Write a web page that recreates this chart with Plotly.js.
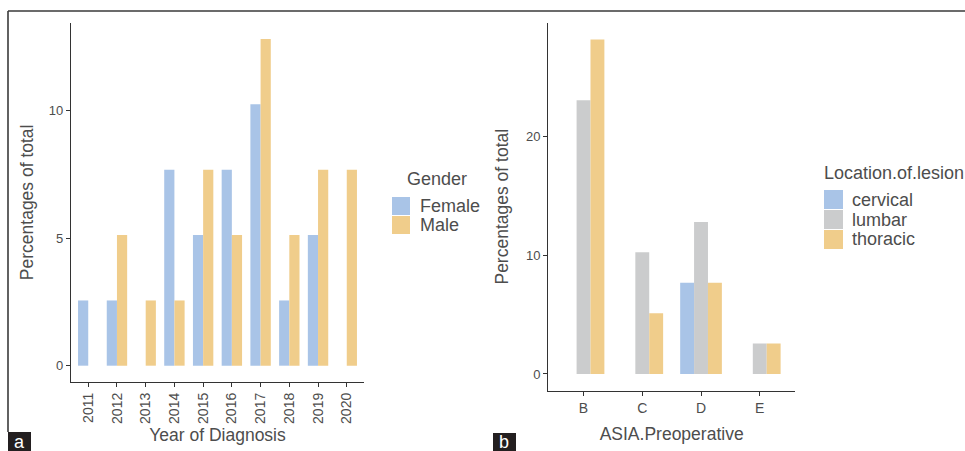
<!DOCTYPE html>
<html>
<head>
<meta charset="utf-8">
<script src="https://cdn.plot.ly/plotly-3.0.1.min.js"></script>
<style>
html,body{margin:0;padding:0;background:#fff;}
#chart{width:965px;height:451px;}
</style>
</head>
<body>
<div id="chart"></div>
<script>
// ---- Data (percentages of total) ----
const years = ['2011','2012','2013','2014','2015','2016','2017','2018','2019','2020'];
const femalePct = [2.56, 2.56, null, 7.69, 5.13, 7.69, 10.26, 2.56, 5.13, null];
const malePct   = [null, 5.13, 2.56, 2.56, 7.69, 5.13, 12.82, 5.13, 7.69, 7.69];

const asiaGrades   = ['B','C','D','E'];
const cervicalPct  = [null, null, 7.69, null];
const lumbarPct    = [23.08, 10.26, 12.82, 2.56];
const thoracicPct  = [28.21, 5.13, 7.69, 2.56];

const ticksA = [0, 5, 10];
const ticksB = [0, 10, 20];

const genderNames   = ['Female', 'Male'];
const locationNames = ['cervical', 'lumbar', 'thoracic'];

// ---- Styles ----
const BLUE = '#a9c4e7', GOLD = '#f0cd8b', GREY = '#cbcccd';
const TXT = '#4d4d4d', AXC = '#333333';
const FONT = 'Liberation Sans, Arial, sans-serif';
const W = 965, H = 451;
const px = v => v / W, py = v => 1 - v / H;

const genderColors = [BLUE, GOLD];
const locationColors = [BLUE, GREY, GOLD];

const traces = [
  {type:'bar', name:genderNames[0], x:years, y:femalePct, marker:{color:genderColors[0]}, xaxis:'x', yaxis:'y'},
  {type:'bar', name:genderNames[1], x:years, y:malePct, marker:{color:genderColors[1]}, xaxis:'x', yaxis:'y'},
  {type:'bar', name:locationNames[0], x:asiaGrades, y:cervicalPct, marker:{color:locationColors[0]}, xaxis:'x2', yaxis:'y2'},
  {type:'bar', name:locationNames[1], x:asiaGrades, y:lumbarPct, marker:{color:locationColors[1]}, xaxis:'x2', yaxis:'y2'},
  {type:'bar', name:locationNames[2], x:asiaGrades, y:thoracicPct, marker:{color:locationColors[2]}, xaxis:'x2', yaxis:'y2'}
];

const axBase = {
  showline:true, linecolor:AXC, linewidth:1.2, mirror:false,
  showgrid:false, zeroline:false,
  ticks:'outside', ticklen:4, tickwidth:1, tickcolor:AXC,
  tickfont:{family:FONT, size:13, color:TXT}
};
const titleFont = {family:FONT, size:17.5, color:TXT};

const shapes = [
  {type:'line', xref:'paper', yref:'paper', x0:px(8), x1:1, y0:py(11), y1:py(11), line:{color:'#3a3a3a', width:1.6}},
  {type:'line', xref:'paper', yref:'paper', x0:px(8), x1:px(8), y0:py(11), y1:py(432), line:{color:'#3a3a3a', width:1.6}},
  {type:'rect', xref:'paper', yref:'paper', x0:px(8), x1:px(31), y0:py(451), y1:py(432), fillcolor:'#231f20', line:{width:0}},
  {type:'rect', xref:'paper', yref:'paper', x0:px(493), x1:px(516), y0:py(451), y1:py(433), fillcolor:'#231f20', line:{width:0}}
];
const annotations = [
  {xref:'paper', yref:'paper', x:px(19.5), y:py(442), text:'a', showarrow:false, xanchor:'center', yanchor:'middle', font:{family:FONT, size:18, color:'#fff'}},
  {xref:'paper', yref:'paper', x:px(504.5), y:py(442), text:'b', showarrow:false, xanchor:'center', yanchor:'middle', font:{family:FONT, size:18, color:'#fff'}}
];

// ggplot-style legends (large touching keys)
function addLegend(title, titleX, titleY, names, colors, keyX, keyTop, keySize, keyStep, labelX) {
  annotations.push({xref:'paper', yref:'paper', x:px(titleX), y:py(titleY), text:title, showarrow:false,
    xanchor:'left', yanchor:'middle', font:{family:FONT, size:18, color:TXT}});
  names.forEach((n, i) => {
    const t = keyTop + i * keyStep;
    shapes.push({type:'rect', xref:'paper', yref:'paper', x0:px(keyX), x1:px(keyX + keySize),
      y0:py(t + keySize), y1:py(t), fillcolor:colors[i], line:{width:0}});
    annotations.push({xref:'paper', yref:'paper', x:px(labelX), y:py(t + keySize / 2), text:n, showarrow:false,
      xanchor:'left', yanchor:'middle', font:{family:FONT, size:18, color:TXT}});
  });
}
addLegend('Gender', 405, 179, genderNames, genderColors, 392, 197, 18, 19, 418);
addLegend('Location.of.lesion', 822, 173, locationNames, locationColors, 824, 190, 19, 20, 850);

const layout = {
  width:W, height:H,
  margin:{l:0, r:0, t:0, b:0},
  paper_bgcolor:'#fff', plot_bgcolor:'#fff',
  font:{family:FONT, color:TXT},
  showlegend:false,
  barmode:'group', bargap:0.29, bargroupgap:0,
  xaxis: Object.assign({}, axBase, {
    type:'category', domain:[px(71), px(364)], range:[-0.6, 9.6], anchor:'y',
    tickangle:-90, tickfont:{family:FONT, size:14, color:TXT},
    title:{text:'Year of Diagnosis', font:titleFont, standoff:5}
  }),
  yaxis: Object.assign({}, axBase, {
    domain:[py(382), py(22.7)], range:[-0.64, 13.46], anchor:'x',
    tickvals:ticksA, ticktext:ticksA.map(String),
    title:{text:'Percentages of total', font:titleFont, standoff:10}
  }),
  xaxis2: Object.assign({}, axBase, {
    type:'category', domain:[px(548.3), px(795)], range:[-0.6, 3.6], anchor:'y2',
    tickfont:{family:FONT, size:14, color:TXT},
    title:{text:'ASIA.Preoperative', font:titleFont, standoff:13}
  }),
  yaxis2: Object.assign({}, axBase, {
    domain:[py(390.7), py(22.7)], range:[-1.41, 29.62], anchor:'x2',
    tickvals:ticksB, ticktext:ticksB.map(String),
    title:{text:'Percentages of total', font:titleFont, standoff:12}
  }),
  shapes: shapes,
  annotations: annotations
};

Plotly.newPlot('chart', traces, layout, {staticPlot:true, displayModeBar:false});
</script>
</body>
</html>
